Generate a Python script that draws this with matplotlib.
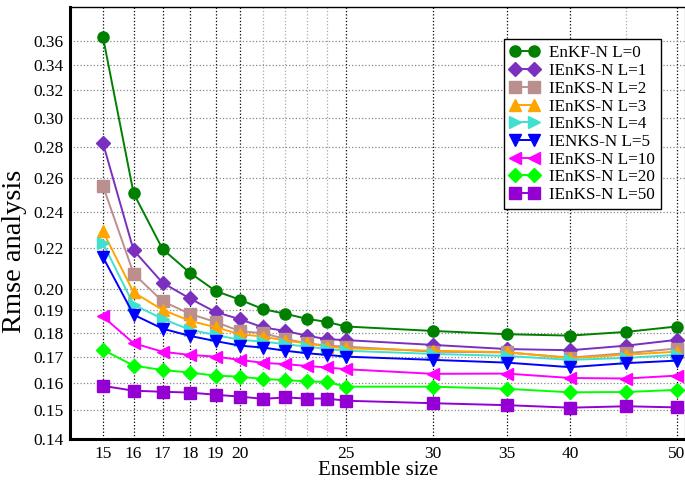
import numpy as np
import matplotlib
matplotlib.use("Agg")
import matplotlib.pyplot as plt
from matplotlib.ticker import FixedLocator, NullFormatter

plt.rcParams['font.family'] = ['Liberation Serif', 'DejaVu Serif']
plt.rcParams['mathtext.fontset'] = 'stix'

# Data
ens = [15, 16, 17, 18, 19, 20, 21, 22, 23, 24, 25, 30, 35, 40, 45, 50]
rmse_L0 = [0.3636, 0.2507, 0.2197, 0.2077, 0.1989, 0.1948, 0.1905, 0.1884, 0.1862, 0.1848,
           0.1828, 0.1809, 0.1795, 0.1789, 0.1805, 0.1828]
rmse_L1 = [0.2826, 0.2190, 0.2028, 0.1954, 0.1892, 0.1860, 0.1824, 0.1809, 0.1789, 0.1774,
           0.1770, 0.1750, 0.1733, 0.1728, 0.1747, 0.1771]
rmse_L2 = [0.2553, 0.2072, 0.1941, 0.1884, 0.1848, 0.1808, 0.1799, 0.1775, 0.1757, 0.1747,
           0.1743, 0.1722, 0.1719, 0.1698, 0.1716, 0.1735]
rmse_L3 = [0.2291, 0.1982, 0.1902, 0.1853, 0.1825, 0.1795, 0.1785, 0.1768, 0.1757, 0.1743,
           0.1736, 0.1726, 0.1720, 0.1696, 0.1710, 0.1722]
rmse_L4 = [0.2228, 0.1925, 0.1862, 0.1814, 0.1792, 0.1771, 0.1764, 0.1753, 0.1743, 0.1733,
           0.1726, 0.1713, 0.1705, 0.1689, 0.1697, 0.1709]
rmse_L5 = [0.2156, 0.1880, 0.1819, 0.1788, 0.1766, 0.1747, 0.1739, 0.1726, 0.1716, 0.1709,
           0.1702, 0.1689, 0.1678, 0.1660, 0.1676, 0.1686]
rmse_L10 = [0.1872, 0.1757, 0.1722, 0.1709, 0.1702, 0.1689, 0.1677, 0.1672, 0.1665, 0.1659,
            0.1652, 0.1634, 0.1635, 0.1618, 0.1616, 0.1627]
rmse_L20 = [0.1730, 0.1666, 0.1649, 0.1639, 0.1627, 0.1623, 0.1614, 0.1610, 0.1605, 0.1603,
            0.1585, 0.1585, 0.1577, 0.1564, 0.1565, 0.1573]
rmse_L50 = [0.1588, 0.1570, 0.1566, 0.1563, 0.1555, 0.1548, 0.1540, 0.1545, 0.1541, 0.1541,
            0.1533, 0.1524, 0.1517, 0.1508, 0.1513, 0.1509]

labels = ['EnKF-N L=0', 'IEnKS-N L=1', 'IEnKS-N L=2', 'IEnKS-N L=3', 'IEnKS-N L=4',
          'IENKS-N L=5', 'IEnKS-N L=10', 'IEnKS-N L=20', 'IEnKS-N L=50']
series = [rmse_L0, rmse_L1, rmse_L2, rmse_L3, rmse_L4, rmse_L5, rmse_L10, rmse_L20, rmse_L50]
colors = ['#008000', '#7B2FBE', '#BC8F8F', '#FFA500', '#40E0D0', '#0000FF', '#FF00FF',
          '#00FF00', '#9400D3']
markers = ['o', 'D', 's', '^', '>', 'v', '<', 'D', 's']

xticks_major = [15, 16, 17, 18, 19, 20, 25, 30, 35, 40, 50]
xticks_minor = [21, 22, 23, 24, 45]
yticks = [0.14, 0.15, 0.16, 0.17, 0.18, 0.19, 0.20, 0.22, 0.24, 0.26, 0.28, 0.30, 0.32, 0.34, 0.36]

fig = plt.figure(figsize=(6.85, 4.8), dpi=100)
ax = fig.add_axes([0.1022, 0.0854, 0.8978, 0.9])

for vals, lab, c, m in zip(series, labels, colors, markers):
    ms = 7 if m == 'D' else 8
    ax.plot(ens, vals, color=c, marker=m, markersize=ms, linewidth=1.4, label=lab,
            markeredgecolor=c)

ax.set_xscale('log')
ax.set_yscale('log')
ax.set_xlim(14.0, 50.9)
ax.set_ylim(0.14, 0.39)

ax.xaxis.set_major_locator(FixedLocator(xticks_major))
ax.xaxis.set_minor_locator(FixedLocator(xticks_minor))
ax.set_xticklabels([str(t) for t in xticks_major])
ax.xaxis.set_minor_formatter(NullFormatter())
ax.yaxis.set_major_locator(FixedLocator(yticks))
ax.yaxis.set_minor_locator(FixedLocator([]))
ax.set_yticklabels(['%.2f' % t for t in yticks])

ax.tick_params(axis='both', which='both', length=0, labelsize=12.5)
ax.tick_params(axis='x', pad=5)
ax.tick_params(axis='y', pad=4.5)
ax.grid(True, axis='x', which='major', color='black', linestyle=':', linewidth=0.9)
ax.grid(True, axis='x', which='minor', color='#aaaaaa', linestyle=':', linewidth=0.9)
ax.grid(True, axis='y', which='major', color='#888888', linestyle=':', linewidth=0.9)

for side in ['left', 'bottom']:
    ax.spines[side].set_linewidth(2.2)
ax.spines['top'].set_linewidth(1)

ax.set_xlabel('Ensemble size', fontsize=15)
ax.xaxis.set_label_coords(0.5 * (317 + 439) / 615 - 70 / 615, -0.05)
ax.set_ylabel('Rmse analysis', fontsize=20.5)
ax.yaxis.set_label_coords(-0.07, 0.435)

leg = ax.legend(loc='upper right', bbox_to_anchor=(0.961, 0.925), borderaxespad=0,
                numpoints=2, fontsize=12.3, handlelength=1.7, borderpad=0.35,
                labelspacing=0.1, handletextpad=0.6, fancybox=False, framealpha=1)
leg.get_frame().set_edgecolor('black')
leg.get_frame().set_linewidth(1)

fig.savefig('out.png', dpi=100)
